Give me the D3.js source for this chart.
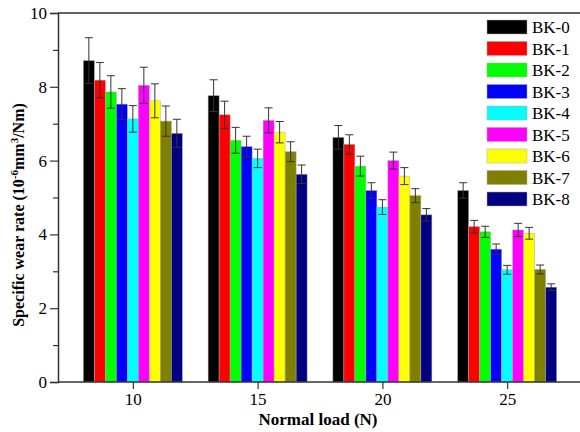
<!DOCTYPE html>
<html><head><meta charset="utf-8">
<script src="https://cdn.jsdelivr.net/npm/d3@7"></script>
<style>body{margin:0;background:#fff;} svg{display:block;}</style>
</head><body>
<svg id="c" width="580" height="432"></svg>
<script>
const loads = [10, 15, 20, 25];
const series = ["BK-0","BK-1","BK-2","BK-3","BK-4","BK-5","BK-6","BK-7","BK-8"];
const colors = ["#000000","#ff0000","#00ff00","#0000ff","#00ffff","#ff00ff","#ffff00","#808000","#000080"];
// values per series: [10N, 15N, 20N, 25N]
const means = [
  [8.71, 7.76, 6.63, 5.19],
  [8.18, 7.24, 6.44, 4.21],
  [7.86, 6.55, 5.85, 4.07],
  [7.53, 6.38, 5.19, 3.60],
  [7.13, 6.06, 4.74, 3.04],
  [8.04, 7.09, 6.00, 4.12],
  [7.62, 6.77, 5.58, 4.03],
  [7.07, 6.24, 5.05, 3.05],
  [6.74, 5.63, 4.53, 2.57]
];
const errors = [
  [0.62, 0.43, 0.32, 0.21],
  [0.48, 0.37, 0.26, 0.17],
  [0.44, 0.35, 0.27, 0.15],
  [0.42, 0.28, 0.21, 0.14],
  [0.36, 0.25, 0.20, 0.12],
  [0.49, 0.34, 0.23, 0.18],
  [0.46, 0.29, 0.23, 0.16],
  [0.41, 0.27, 0.19, 0.12],
  [0.38, 0.25, 0.17, 0.09]
];
const yTicks = [0, 2, 4, 6, 8, 10];
const yMinor = [1, 3, 5, 7, 9];

(function(){
const svg = d3.select("#c");
const mL = 58, mR = 582, mT = 13, mB = 382;
const x = d3.scaleLinear().domain([7, 28]).range([mL, mR]);
const y = d3.scaleLinear().domain([0, 10]).range([mB, mT]);
const groupW = 99;
const inner = d3.scaleBand().domain(series).range([-groupW/2, groupW/2]).padding(0);
const serif = "'Liberation Serif','Times New Roman',serif";
const axisCol = "#333";

// bars
series.forEach((s, i) => {
  const g = svg.append("g");
  loads.forEach((L, j) => {
    const bx = x(L) + inner(s);
    g.append("rect")
      .attr("x", bx).attr("y", y(means[i][j]))
      .attr("width", inner.bandwidth()).attr("height", y(0) - y(means[i][j]))
      .attr("fill", colors[i]).attr("stroke", "#aaa").attr("stroke-width", 0.5);
  });
});
// error bars
series.forEach((s, i) => {
  loads.forEach((L, j) => {
    const cx = x(L) + inner(s) + inner.bandwidth()/2;
    const hi = y(means[i][j] + errors[i][j]), lo = y(means[i][j] - errors[i][j]);
    const g = svg.append("g").attr("stroke", "#333").attr("stroke-width", 1);
    g.append("line").attr("x1", cx).attr("x2", cx).attr("y1", hi).attr("y2", lo);
    g.append("line").attr("x1", cx-4).attr("x2", cx+4).attr("y1", hi).attr("y2", hi);
    g.append("line").attr("x1", cx-4).attr("x2", cx+4).attr("y1", lo).attr("y2", lo);
  });
});

// top frame
svg.append("line").attr("x1", mL).attr("x2", 580).attr("y1", mT).attr("y2", mT)
  .attr("stroke", axisCol).attr("stroke-width", 1.5);

// y axis
const yAxis = d3.axisLeft(y).tickValues(yTicks).tickSize(8).tickPadding(3).tickFormat(d3.format("d"));
const ya = svg.append("g").attr("transform", `translate(${mL},0)`).call(yAxis);
ya.select(".domain").attr("stroke", axisCol).attr("stroke-width", 1.5);
ya.selectAll(".tick line").attr("stroke", axisCol).attr("stroke-width", 1.2);
ya.selectAll(".tick text").attr("font-family", serif).attr("font-size", 17).attr("fill", "#000");
const yMin = d3.axisLeft(y).tickValues(yMinor).tickSize(5).tickFormat("");
const ym = svg.append("g").attr("transform", `translate(${mL},0)`).call(yMin);
ym.select(".domain").remove();
ym.selectAll(".tick line").attr("stroke", axisCol).attr("stroke-width", 1.2);

// x axis
const xAxis = d3.axisBottom(x).tickValues(loads).tickSize(7).tickPadding(4).tickFormat(d3.format("d"));
const xa = svg.append("g").attr("transform", `translate(0,${mB})`).call(xAxis);
xa.select(".domain").attr("stroke", axisCol).attr("stroke-width", 1.5).attr("d", `M${mL},0H580`);
xa.selectAll(".tick line").attr("stroke", axisCol).attr("stroke-width", 1.2);
xa.selectAll(".tick text").attr("font-family", serif).attr("font-size", 17).attr("fill", "#000");

// axis titles
svg.append("text").attr("x", 318).attr("y", 425).attr("text-anchor", "middle")
  .attr("font-family", serif).attr("font-weight", "bold").attr("font-size", 17)
  .text("Normal load (N)");
const yt = svg.append("text").attr("transform", "translate(24,215) rotate(-90)")
  .attr("text-anchor", "middle").attr("font-family", serif).attr("font-weight", "bold").attr("font-size", 16);
yt.append("tspan").text("Specific wear rate (10");
yt.append("tspan").attr("font-size", 11).attr("dy", -6).text("-6");
yt.append("tspan").attr("dy", 6).text("mm");
yt.append("tspan").attr("font-size", 11).attr("dy", -6).text("3");
yt.append("tspan").attr("dy", 6).text("/Nm)");

// legend
const lg = svg.append("g");
series.forEach((s, i) => {
  const cy = 27 + i * 21.5;
  lg.append("rect").attr("x", 487).attr("y", cy - 7).attr("width", 40).attr("height", 14)
    .attr("fill", colors[i]).attr("stroke", "#aaa").attr("stroke-width", 0.5);
  lg.append("text").attr("x", 532).attr("y", cy + 6).attr("font-family", serif)
    .attr("font-size", 17).attr("fill", "#000").text(s);
});
})();
</script>
</body></html>
